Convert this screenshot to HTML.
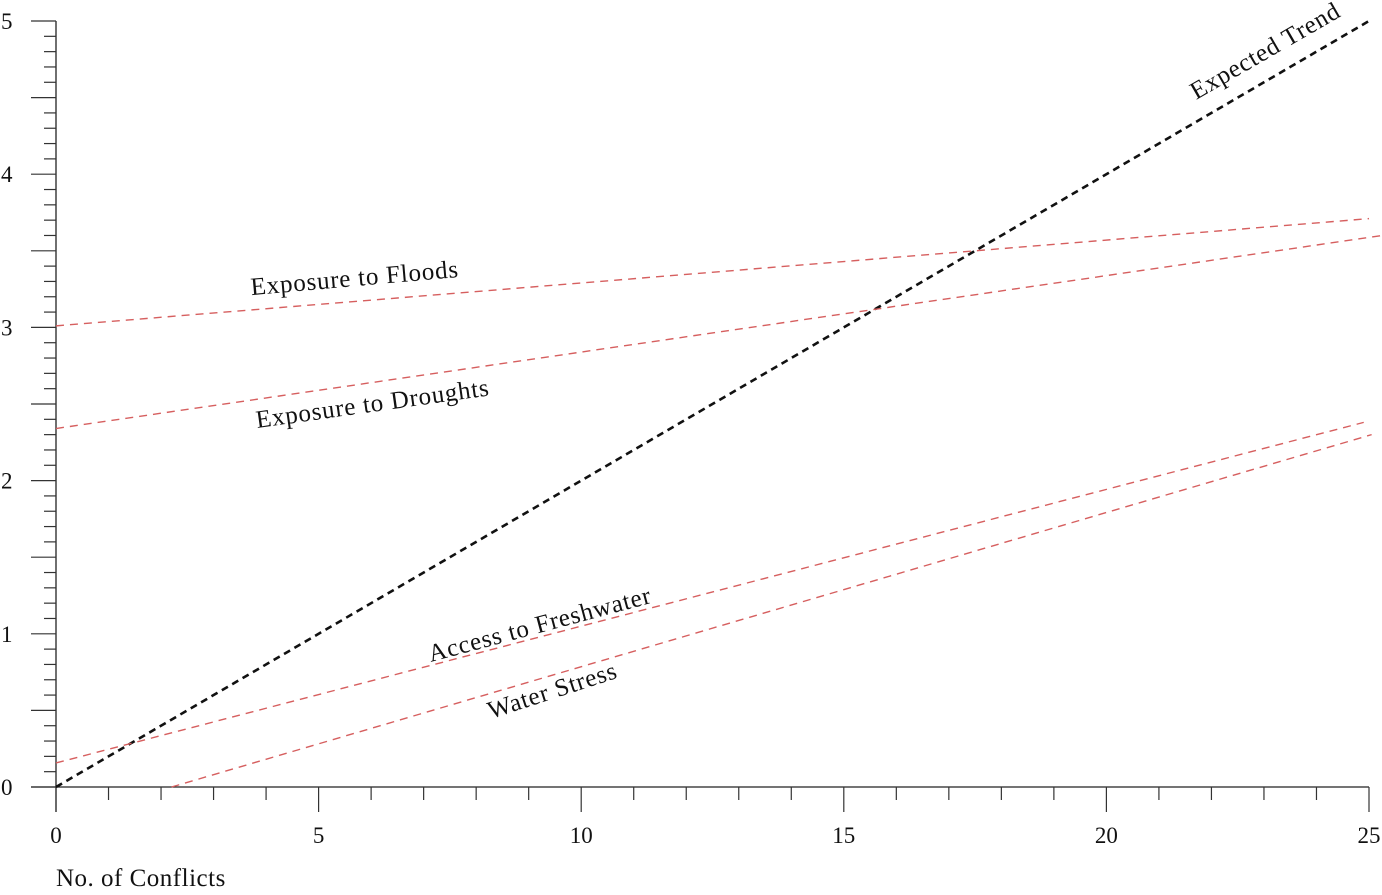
<!DOCTYPE html>
<html><head><meta charset="utf-8"><style>
html,body{margin:0;padding:0;background:#fff;}
svg{display:block;font-family:"Liberation Serif",serif;}
</style></head><body>
<svg id="chart" width="1382" height="895" viewBox="0 0 1382 895">
<g id="axes"></g>
<g id="series"></g>
<g id="labels"></g>
<text x="56" y="886" font-size="25" letter-spacing="0.5" fill="#111">No. of Conflicts</text>
</svg>
<script>
const xTicks = [0,5,10,15,20,25];
const yTicks = [0,1,2,3,4,5];
const seriesNames = ["Expected Trend","Exposure to Floods","Exposure to Droughts","Access to Freshwater","Water Stress"];
const seriesX0 = [0, 0, 0, 0, 2.2];
const seriesY0 = [0, 3.01, 2.34, 0.157, 0];
const seriesX1 = [25, 25, 25.25, 24.9, 25.05];
const seriesY1 = [5, 3.71, 3.60, 2.38, 2.30];
const labelX = [23.1, 5.7, 6.05, 9.25, 9.5];
const labelY = [4.76, 3.27, 2.45, 1.01, 0.58];
const labelAngle = [-30, -5, -8, -15, -18];

const NS="http://www.w3.org/2000/svg";
const X=v=>56+v*(1369-56)/25;
const Y=v=>787-v*(787-21)/5;
function mk(tag,attrs,parent){const e=document.createElementNS(NS,tag);for(const k in attrs)e.setAttribute(k,attrs[k]);parent.appendChild(e);return e;}
const axes=document.getElementById('axes');
let e;
e=mk('line',{x1:56,y1:21,x2:56,y2:812,stroke:'#222','stroke-width':1.3},axes);


e=mk('line',{x1:31,y1:787,x2:1369,y2:787,stroke:'#222','stroke-width':1.3},axes);


for(let i=0;i<=50;i++){const v=i/10;const len=(i%5===0)?25:12;
 e=mk('line',{x1:56-len,y1:Y(v),x2:56,y2:Y(v),stroke:'#333','stroke-width':1.2},axes);
 
 }
for(let i=0;i<=25;i++){const len=(i%5===0)?25:13;
 e=mk('line',{x1:X(i),y1:787,x2:X(i),y2:787+len,stroke:'#333','stroke-width':1.2},axes);
 
 }
yTicks.forEach(v=>{e=mk('text',{x:1,y:Y(v)+8,'font-size':23,fill:'#111'},axes);e.textContent=v;
 
 });
xTicks.forEach(v=>{e=mk('text',{x:X(v),y:843,'font-size':23,fill:'#111','text-anchor':'middle'},axes);e.textContent=v;
 
 });
const ser=document.getElementById('series'), lab=document.getElementById('labels');
seriesNames.forEach((n,i)=>{
 const black=i===0;
 e=mk('line',{x1:X(seriesX0[i]),y1:Y(seriesY0[i]),x2:X(seriesX1[i]),y2:Y(seriesY1[i]),stroke:black?'#111':'#d65f5f','stroke-width':black?2.6:1.4,'stroke-dasharray':black?'7 5':'8 6'},ser);
 
 
 const lx=X(labelX[i]), ly=Y(labelY[i]);
 e=mk('text',{x:lx,y:ly,'font-size':25,'letter-spacing':0.8,fill:'#111','text-anchor':'middle',transform:`rotate(${labelAngle[i]} ${lx} ${ly})`},lab);
 e.textContent=n;
 
 
});
</script>
</body></html>
